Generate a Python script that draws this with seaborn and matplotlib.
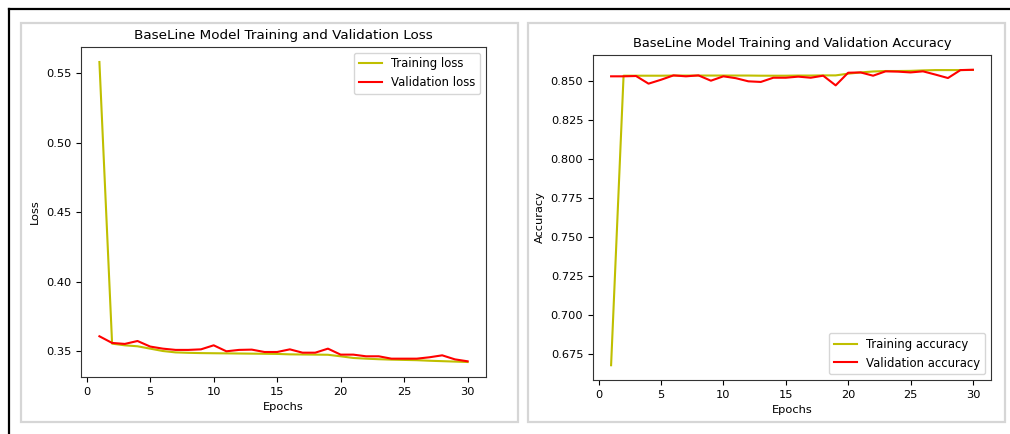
import numpy as np
import pandas as pd
import matplotlib
matplotlib.use("Agg")
import matplotlib.pyplot as plt
import matplotlib.patches as patches
from matplotlib.lines import Line2D
import seaborn as sns

# valores
epochs = list(range(1, 31))

train_loss = [0.558, 0.3555, 0.3543, 0.3536, 0.3519, 0.3502, 0.3492, 0.3489, 0.3487, 0.3486,
              0.3485, 0.3484, 0.3483, 0.3482, 0.3481, 0.3478, 0.3477, 0.3476, 0.3475, 0.3464,
              0.3452, 0.3447, 0.3443, 0.3440, 0.3438, 0.3436, 0.3432, 0.3429, 0.3426, 0.3423]
val_loss = [0.3608, 0.3560, 0.3553, 0.3574, 0.3534, 0.3519, 0.3510, 0.3510, 0.3514, 0.3543,
            0.3500, 0.3510, 0.3512, 0.3495, 0.3495, 0.3514, 0.3490, 0.3490, 0.3519, 0.3476,
            0.3476, 0.3464, 0.3464, 0.3447, 0.3447, 0.3447, 0.3457, 0.3471, 0.3442, 0.3428]

train_acc = [0.668, 0.8536, 0.8536, 0.8536, 0.8536, 0.8537, 0.8537, 0.8537, 0.8537, 0.8537,
             0.8537, 0.8537, 0.8536, 0.8536, 0.8536, 0.8537, 0.8537, 0.8538, 0.8538, 0.8549,
             0.8557, 0.8563, 0.8566, 0.8566, 0.8567, 0.8570, 0.8572, 0.8572, 0.8572, 0.8573]
val_acc = [0.8532, 0.8532, 0.8534, 0.8485, 0.8510, 0.8538, 0.8532, 0.8538, 0.8504, 0.8532,
           0.8520, 0.8500, 0.8496, 0.8523, 0.8523, 0.8530, 0.8523, 0.8536, 0.8474, 0.8555,
           0.8557, 0.8536, 0.8564, 0.8562, 0.8557, 0.8564, 0.8543, 0.8521, 0.8572, 0.8574]

df = pd.DataFrame({"epoch": epochs, "train_loss": train_loss, "val_loss": val_loss,
                   "train_acc": train_acc, "val_acc": val_acc})

W, H = 1010, 434
fig = plt.figure(figsize=(W / 100, H / 100), dpi=100)

def box(x0, y0, x1, y1):
    # convierte pixeles (arriba-izquierda) a fraccion de figura
    return [x0 / W, 1 - y1 / H, (x1 - x0) / W, (y1 - y0) / H]

# marco de la captura
fig.add_artist(Line2D([9 / W, 1], [1 - 9 / H, 1 - 9 / H], color="black", lw=1.6))
fig.add_artist(Line2D([9 / W, 9 / W], [0, 1 - 9 / H], color="black", lw=1.6))
for x0, x1 in [(21, 518), (528, 1005)]:
    b = box(x0, 23, x1, 422)
    fig.add_artist(patches.Rectangle((b[0], b[1]), b[2], b[3], transform=fig.transFigure,
                                     fill=False, edgecolor="#d6d6d6", lw=1.6))

ax1 = fig.add_axes(box(81, 47, 486, 377))
ax2 = fig.add_axes(box(593, 55, 991, 380))

sns.lineplot(data=df, x="epoch", y="train_loss", color="y", lw=1.5, label="Training loss", ax=ax1)
sns.lineplot(data=df, x="epoch", y="val_loss", color="r", lw=1.5, label="Validation loss", ax=ax1)
ax1.set_title("BaseLine Model Training and Validation Loss", fontsize=9.7)
ax1.set_xlabel("Epochs", fontsize=8.2)
ax1.set_ylabel("Loss", fontsize=8.2)
ax1.legend(loc="upper right", fontsize=8.4)

sns.lineplot(data=df, x="epoch", y="train_acc", color="y", lw=1.5, label="Training accuracy", ax=ax2)
sns.lineplot(data=df, x="epoch", y="val_acc", color="r", lw=1.5, label="Validation accuracy", ax=ax2)
ax2.set_title("BaseLine Model Training and Validation Accuracy", fontsize=9.4)
ax2.set_xlabel("Epochs", fontsize=8.2)
ax2.set_ylabel("Accuracy", fontsize=8.2)
ax2.legend(loc="lower right", fontsize=8.4)

for ax in (ax1, ax2):
    ax.set_xticks([0, 5, 10, 15, 20, 25, 30])
    ax.tick_params(labelsize=8.2)
    for s in ax.spines.values():
        s.set_color("#333333")
ax1.set_yticks([0.35, 0.40, 0.45, 0.50, 0.55])
ax2.set_yticks([0.675, 0.700, 0.725, 0.750, 0.775, 0.800, 0.825, 0.850])
ax1.yaxis.set_major_formatter(matplotlib.ticker.FormatStrFormatter("%.2f"))
ax2.yaxis.set_major_formatter(matplotlib.ticker.FormatStrFormatter("%.3f"))

fig.savefig("out.png", dpi=100)
